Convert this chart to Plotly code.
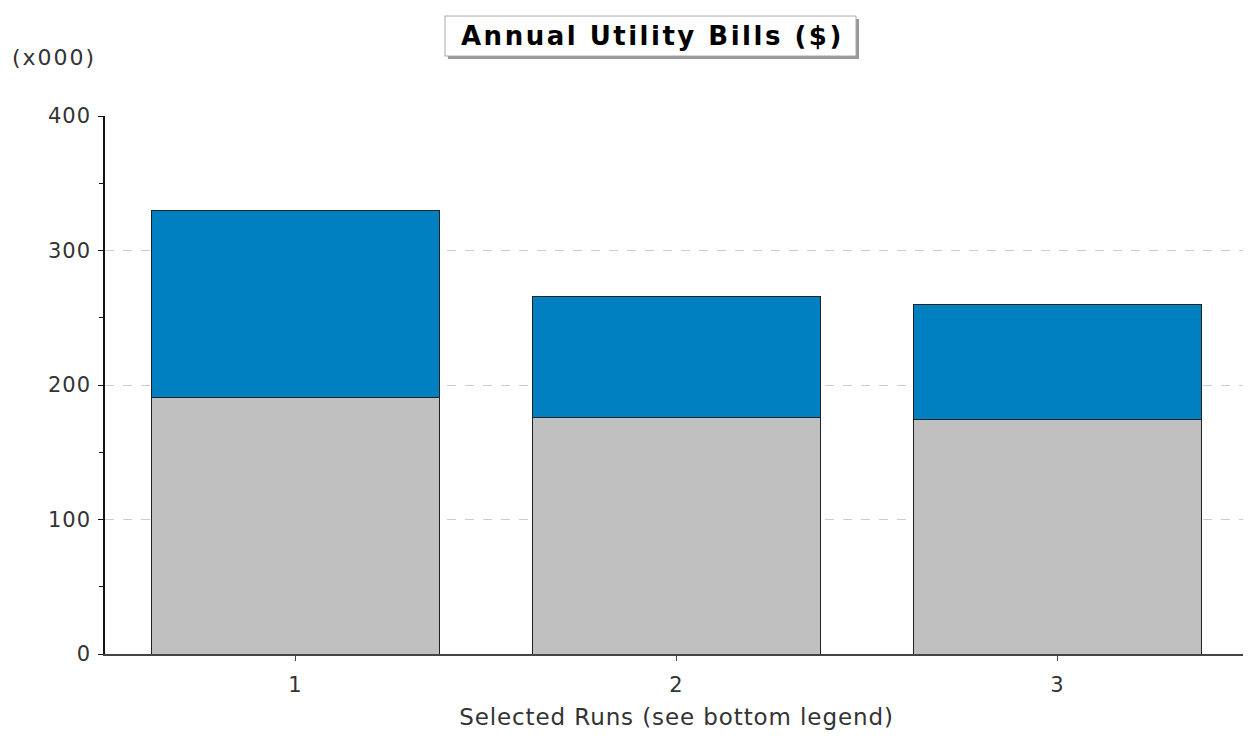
import plotly.graph_objects as go

runs = ["1", "2", "3"]
base_values = [191, 175.5, 174]
top_values = [138.5, 90, 86]
y_ticks = [0, 100, 200, 300, 400]
x_title = "Selected Runs (see bottom legend)"
chart_title = "Annual Utility Bills ($)"
unit_label = "(x000)"

OFF = 8  # page body margin
W, H = 1243, 732
L, R, T, B = 105 - OFF, 3, 116 - OFF, 86

def spaced(s, sp):
    return f"<span style='letter-spacing:{sp}px'>{s}</span>"

fig = go.Figure()
fig.add_bar(x=runs, y=base_values, marker=dict(color="#C0C0C0", line=dict(color="#222222", width=1)), width=0.755)
fig.add_bar(x=runs, y=top_values, marker=dict(color="#0080C0", line=dict(color="#222222", width=1)), width=0.755)

font_main = "DejaVu Sans, Verdana, sans-serif"
fig.update_layout(
    barmode="stack",
    width=W, height=H,
    margin=dict(l=L, r=R, t=T, b=B, autoexpand=False),
    plot_bgcolor="white", paper_bgcolor="white",
    showlegend=False,
    font=dict(family=font_main, size=20, color="#333333"),
    xaxis=dict(
        range=[-0.5, 2.5], showline=True, linecolor="#444444", linewidth=1.5,
        ticks="outside", ticklen=5, tickcolor="#444444", showgrid=False,
        tickvals=runs, ticktext=[spaced(r, 1) for r in runs],
        tickfont=dict(size=21, color="#333333"), ticklabelstandoff=6,
        title=dict(text=spaced(x_title, 0.9), font=dict(size=23, color="#333333"), standoff=13),
    ),
    yaxis=dict(
        range=[0, 400], tickvals=y_ticks, ticktext=[spaced(v, 1) for v in y_ticks],
        showline=True, linecolor="#111111", linewidth=1.5,
        ticks="outside", ticklen=5, tickcolor="#111111",
        showgrid=True, gridcolor="#CCCCCC", griddash="dash", gridwidth=1,
        zeroline=False,
        minor=dict(tickvals=[50, 150, 250, 350], ticks="outside", ticklen=4, tickcolor="#111111", showgrid=False),
        tickfont=dict(size=21, color="#333333"), ticklabelstandoff=3,
    ),
)

pw = W - L - R
ph = H - T - B
def px(x):
    return (x - OFF - L) / pw
def py(y):
    return (H - B - (y - OFF)) / ph

# title box with shadow
fig.add_shape(type="rect", xref="paper", yref="paper",
              x0=px(448), x1=px(859), y0=py(59), y1=py(19),
              fillcolor="#999999", line=dict(width=0), layer="above")
fig.add_shape(type="rect", xref="paper", yref="paper",
              x0=px(445), x1=px(856), y0=py(56), y1=py(16),
              fillcolor="white", line=dict(color="#a8a8a8", width=1), layer="above")
fig.add_annotation(text=spaced(f"<b>{chart_title}</b>", 2.5),
                   xref="paper", yref="paper",
                   x=px(652), y=py(36), xanchor="center", yanchor="middle", showarrow=False,
                   font=dict(family="DejaVu Sans, Verdana, sans-serif", size=26, color="#000000"))
fig.add_annotation(text=spaced(unit_label, 2), xref="paper", yref="paper",
                   x=px(10), y=py(58), xanchor="left", yanchor="middle", showarrow=False,
                   font=dict(size=22, color="#333333"))

fig.write_html("out.html")
